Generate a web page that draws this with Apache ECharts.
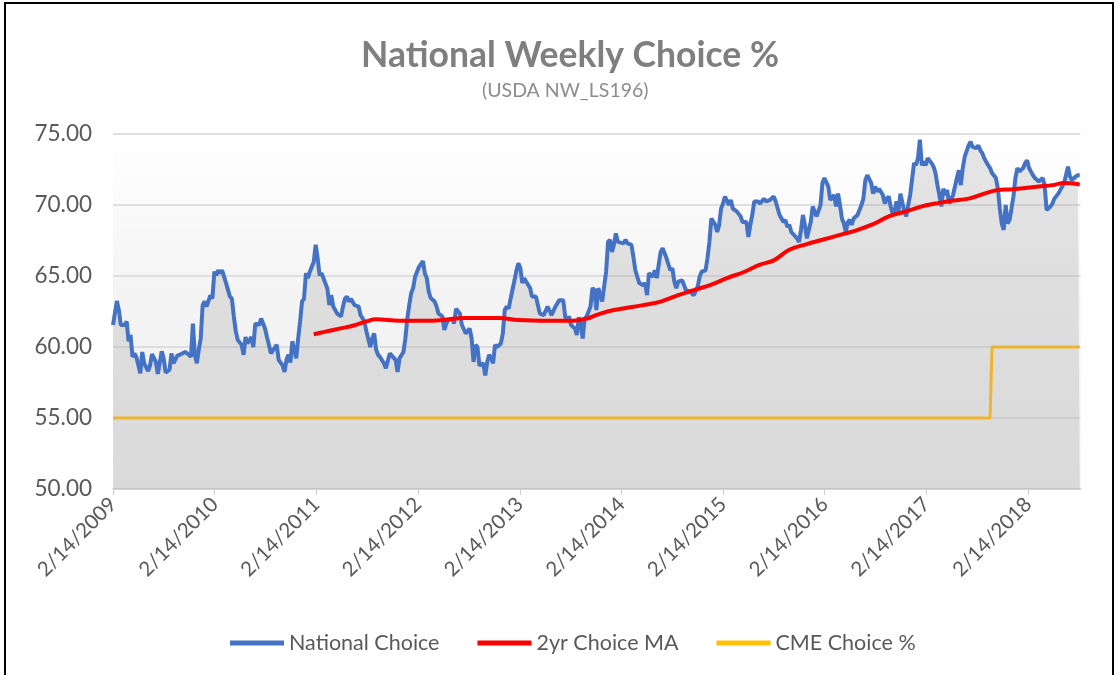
<!DOCTYPE html>
<html>
<head>
<meta charset="utf-8">
<title>National Weekly Choice %</title>
<script src="https://cdn.jsdelivr.net/npm/echarts@6/dist/echarts.min.js"></script>
<style>
  html, body { margin: 0; padding: 0; background: #fff; }
  #chart { width: 1119px; height: 675px; }
</style>
</head>
<body>
<div id="chart"></div>
<script>
// x is counted in weeks from 2/14/2009 (first weekly report on the axis)
const startDate = '2/14/2009'
const axisEndWeek = 496.4

const tickLabels = ['2/14/2009', '2/14/2010', '2/14/2011', '2/14/2012', '2/14/2013',
  '2/14/2014', '2/14/2015', '2/14/2016', '2/14/2017', '2/14/2018']

// National Choice % — [week, value]
const nationalChoice = [
  [0, 61.55], [2, 63.24], [3, 62.6], [4, 61.55], [6, 61.55], [7, 61.8], [8, 60.4], [9, 60.85],
  [10, 59.3], [11, 59.55], [12, 59.3], [14, 58.15], [15, 59.65], [16, 58.85], [18, 58.3], [19, 58.7],
  [20, 59.5], [22, 58.95], [23, 58.1], [25, 59.7], [26, 59.2], [27, 58.2], [29, 58.4], [30, 59.55],
  [31, 58.85], [33, 59.4], [35, 59.5], [37, 59.65], [39, 59.45], [40, 59.3], [41, 61.65], [42, 59.45],
  [43, 58.85], [44, 59.8], [45, 60.6], [46, 62.95], [47, 63.2], [48, 62.85], [50, 63.65], [51, 63.4],
  [52, 65.3], [53, 65.05], [54, 65.4], [55, 65.2], [56, 65.4], [57, 65.4], [58, 64.5], [60, 63.55],
  [61, 63.4], [62, 62.15], [63, 61.1], [64, 60.5], [66, 60.15], [67, 59.45], [68, 60.7], [69, 60.25],
  [71, 60.7], [72, 60.0], [73, 61.65], [74, 61.65], [75, 61.55], [76, 62.0], [78, 61.3], [79, 60.7],
  [80, 60.15], [81, 59.55], [82, 59.6], [84, 60.15], [85, 59.1], [86, 58.9], [87, 58.7], [88, 58.25],
  [89, 59.1], [90, 59.45], [91, 58.9], [92, 60.4], [94, 59.2], [95, 60.6], [96, 61.8], [97, 63.2],
  [98, 63.4], [99, 65.2], [100, 64.85], [101, 65.3], [103, 66.0], [104, 67.2], [105, 66.25], [106, 65.05],
  [107, 65.2], [108, 65.3], [110, 64.1], [111, 62.95], [112, 63.65], [113, 62.85], [114, 62.95], [115, 62.35],
  [117, 62.15], [118, 62.85], [119, 63.4], [120, 63.55], [121, 63.2], [122, 63.4], [124, 62.95], [125, 63.05],
  [126, 62.85], [127, 62.25], [128, 62.15], [129, 61.8], [130, 61.1], [132, 60.0], [133, 60.6], [134, 60.95],
  [135, 59.8], [136, 59.45], [137, 59.3], [139, 58.85], [140, 58.5], [141, 58.5], [142, 59.55], [143, 59.45],
  [145, 59.1], [146, 58.25], [147, 59.2], [149, 59.65], [150, 60.6], [151, 62.0], [152, 62.95], [153, 63.8],
  [154, 64.15], [155, 64.95], [156, 65.3], [157, 65.65], [159, 66.05], [160, 65.2], [161, 64.85], [162, 63.9],
  [163, 63.45], [164, 63.4], [165, 63.2], [166, 62.85], [167, 62.35], [169, 62.15], [170, 61.2], [171, 61.65],
  [172, 61.9], [174, 62.0], [175, 61.65], [176, 62.7], [177, 62.6], [178, 62.35], [179, 61.55], [181, 60.95],
  [182, 60.85], [183, 61.3], [184, 60.6], [185, 58.95], [186, 60.15], [187, 60.0], [188, 58.7], [190, 58.85],
  [191, 58.0], [192, 58.95], [193, 59.45], [194, 59.2], [195, 58.85], [196, 60.15], [197, 60.0], [199, 60.25],
  [200, 60.95], [201, 62.6], [202, 62.85], [203, 62.7], [204, 63.4], [206, 64.7], [207, 65.4], [208, 65.9],
  [209, 65.55], [210, 64.5], [211, 64.85], [212, 64.6], [214, 64.15], [215, 63.55], [216, 63.65], [217, 63.55],
  [219, 62.35], [220, 62.25], [221, 62.25], [223, 62.85], [224, 62.85], [225, 62.25], [226, 62.35], [227, 62.85],
  [229, 63.3], [230, 63.3], [231, 63.3], [232, 62.15], [233, 61.9], [234, 62.15], [235, 61.55], [237, 61.3],
  [238, 60.85], [239, 62.1], [240, 61.55], [241, 60.6], [242, 62.0], [243, 62.15], [245, 62.85], [246, 64.15],
  [247, 64.0], [248, 62.6], [249, 64.15], [251, 63.2], [252, 63.3], [253, 65.3], [254, 67.4], [255, 67.55],
  [256, 66.7], [257, 67.2], [258, 68.0], [259, 67.4], [260, 67.3], [262, 67.3], [263, 67.55], [264, 67.3],
  [266, 67.2], [267, 66.35], [268, 65.4], [269, 64.95], [270, 64.5], [271, 64.6], [272, 64.35], [273, 64.5],
  [274, 63.65], [275, 65.2], [277, 64.95], [278, 65.4], [279, 64.85], [280, 65.8], [281, 66.7], [282, 66.95],
  [283, 66.6], [284, 66.25], [285, 65.8], [286, 65.4], [287, 65.55], [288, 64.6], [289, 64.15], [290, 64.6],
  [292, 64.7], [293, 64.35], [294, 64.0], [295, 63.9], [296, 63.9], [298, 63.65], [299, 63.75], [300, 64.25],
  [301, 64.95], [302, 65.3], [304, 65.4], [305, 66.25], [306, 67.4], [307, 69.05], [308, 69.05], [309, 68.6],
  [310, 68.1], [311, 68.6], [312, 69.75], [313, 70.1], [314, 70.6], [315, 70.7], [316, 70.0], [317, 70.35],
  [318, 69.75], [319, 69.65], [320, 69.55], [322, 69.2], [323, 68.8], [324, 68.7], [325, 68.8], [326, 67.75],
  [327, 68.6], [328, 69.3], [329, 70.25], [331, 70.25], [332, 70.1], [333, 70.0], [334, 70.45], [335, 70.25],
  [337, 70.35], [338, 70.25], [339, 70.6], [340, 70.25], [342, 69.3], [343, 69.05], [344, 68.8], [345, 68.95],
  [346, 68.45], [347, 68.6], [348, 68.1], [349, 68.0], [351, 67.65], [352, 67.4], [353, 68.25], [354, 69.3],
  [355, 68.6], [356, 67.65], [358, 68.8], [359, 69.9], [360, 70.0], [361, 69.2], [362, 69.3], [363, 70.0],
  [364, 71.55], [365, 71.9], [366, 72.0], [367, 71.3], [368, 70.35], [370, 70.7], [371, 69.9], [372, 70.8],
  [373, 70.0], [374, 69.05], [375, 68.7], [376, 68.1], [377, 68.8], [378, 68.95], [379, 68.6], [380, 69.05],
  [382, 69.3], [383, 69.2], [384, 70.0], [385, 70.45], [386, 71.75], [387, 72.1], [388, 72.1], [389, 71.55],
  [390, 70.8], [391, 71.3], [392, 70.95], [393, 71.15], [395, 70.7], [396, 70.1], [397, 70.45], [398, 70.6],
  [399, 69.9], [400, 69.4], [401, 69.55], [402, 70.25], [403, 69.55], [404, 70.8], [405, 70.7], [406, 69.55],
  [407, 69.2], [408, 70.0], [409, 70.7], [411, 72.95], [412, 72.8], [413, 73.3], [414, 74.6], [415, 72.8],
  [416, 73.05], [417, 72.8], [418, 73.3], [420, 72.95], [421, 72.7], [422, 72.25], [423, 71.4], [424, 70.7],
  [425, 69.9], [426, 71.15], [427, 70.7], [428, 71.05], [429, 70.1], [430, 70.2], [431, 70.7], [433, 71.9],
  [434, 72.45], [435, 71.4], [436, 72.6], [437, 73.4], [438, 73.5], [439, 74.2], [440, 74.45], [441, 74.1],
  [442, 74.2], [443, 74.0], [444, 74.2], [445, 73.85], [446, 73.65], [447, 73.3], [448, 73.05], [449, 72.8],
  [450, 72.6], [451, 72.25], [453, 71.9], [454, 71.15], [455, 69.75], [456, 68.7], [457, 68.25], [458, 70.0],
  [459, 68.7], [460, 68.95], [461, 69.75], [462, 70.6], [463, 71.9], [464, 72.6], [465, 72.35], [466, 72.25],
  [467, 72.6], [468, 72.95], [469, 73.15], [470, 72.6], [471, 72.35], [472, 72.1], [473, 71.9], [474, 72.0],
  [475, 71.65], [477, 71.9], [478, 71.4], [479, 69.65], [480, 69.75], [481, 69.9], [482, 70.1], [483, 70.45],
  [485, 70.8], [486, 71.05], [487, 71.05], [488, 71.55], [490, 72.7], [491, 72.0], [492, 71.75], [493, 71.9],
  [494, 71.9], [495, 72.1], [496, 72.1]
]

// 2yr Choice MA — [week, value]
const choiceMA = [
  [103, 60.9], [108, 61.05], [113, 61.2], [118, 61.35], [123, 61.5], [130, 61.8], [135, 61.95], [147, 61.85],
  [164, 61.85], [181, 62.05], [198, 62.05], [208, 61.9], [224, 61.85], [236, 61.85], [243, 62.0], [249, 62.3],
  [257, 62.6], [272, 62.95], [281, 63.2], [290, 63.65], [298, 64.0], [307, 64.4], [315, 64.85], [324, 65.3],
  [332, 65.8], [339, 66.1], [347, 66.85], [356, 67.25], [364, 67.55], [373, 67.9], [381, 68.2], [390, 68.65],
  [398, 69.2], [407, 69.55], [415, 69.9], [422, 70.1], [430, 70.3], [439, 70.45], [447, 70.8], [454, 71.05],
  [461, 71.1], [468, 71.2], [475, 71.3], [482, 71.4], [488, 71.55], [496, 71.45]
]

// CME Choice % — [week, value]
const cmeChoice = [[0, 55], [450, 55], [451, 60], [496, 60]]

const parseDate = s => {
  const [m, d, y] = s.split('/').map(Number)
  return Date.UTC(y, m - 1, d)
}
// week offset of each labelled date on the axis
const tickWeeks = tickLabels.map(s => Math.round((parseDate(s) - parseDate(startDate)) / 86400000) / 7)
const labelFor = v => {
  const i = tickWeeks.findIndex(w => Math.abs(w - v) < 0.01)
  return i >= 0 ? tickLabels[i] : ''
}

const font = 'Lato, "Open Sans", sans-serif'
const chart = echarts.init(document.getElementById('chart'))

chart.setOption({
  animation: false,
  backgroundColor: '#fff',
  title: [
    {
      text: 'National Weekly Choice %',
      left: 356,
      top: 33,
      textStyle: { fontFamily: font, fontSize: 35.5, fontWeight: 'bold', color: '#7f7f7f' }
    },
    {
      text: '(USDA NW_LS196)',
      left: 477,
      top: 76,
      textStyle: { fontFamily: font, fontSize: 19.5, fontWeight: 'normal', color: '#8c8c8c' }
    }
  ],
  graphic: [{
    type: 'rect',
    shape: { x: 5, y: 3, width: 1108, height: 700 },
    style: { fill: 'none', stroke: '#000', lineWidth: 2 },
    silent: true
  }],
  legend: {
    bottom: 16,
    left: 225,
    icon: 'rect',
    itemWidth: 54,
    itemHeight: 5,
    itemGap: 38,
    textStyle: { fontFamily: font, fontSize: 21.5, color: '#595959' },
    data: ['National Choice', '2yr Choice MA', 'CME Choice %']
  },
  grid: {
    left: 113,
    right: 38.5,
    top: 134,
    bottom: 186,
    show: true,
    borderWidth: 0,
    backgroundColor: new echarts.graphic.LinearGradient(0, 0, 0, 1, [
      { offset: 0, color: '#ffffff' },
      { offset: 0.45, color: '#f4f4f4' },
      { offset: 1, color: '#efefef' }
    ])
  },
  xAxis: {
    type: 'value',
    min: 0,
    max: axisEndWeek,
    axisLine: { lineStyle: { color: '#d0d0d0', width: 1.5 } },
    axisTick: { show: true, customValues: tickWeeks, length: 6, lineStyle: { color: '#d0d0d0' } },
    axisLabel: {
      customValues: tickWeeks,
      rotate: 45,
      fontFamily: font,
      fontSize: 20.5,
      color: '#595959',
      margin: 12,
      formatter: v => labelFor(v)
    },
    splitLine: { show: false }
  },
  yAxis: {
    type: 'value',
    min: 50,
    max: 75,
    interval: 5,
    axisLine: { show: false },
    axisTick: { show: false },
    axisLabel: {
      fontFamily: font,
      fontSize: 22.5,
      color: '#595959',
      margin: 21,
      formatter: v => v.toFixed(2)
    },
    splitLine: { lineStyle: { color: '#d6d6d6', width: 1.5 } }
  },
  series: [
    {
      name: 'National Choice',
      type: 'line',
      data: nationalChoice,
      showSymbol: false,
      lineStyle: { color: '#4472C4', width: 4 },
      itemStyle: { color: '#4472C4' },
      areaStyle: { origin: 'start', color: 'rgba(160,160,160,0.38)' },
      z: 3
    },
    {
      name: '2yr Choice MA',
      type: 'line',
      data: choiceMA,
      smooth: 0.4,
      showSymbol: false,
      lineStyle: { color: '#FF0000', width: 4 },
      itemStyle: { color: '#FF0000' },
      z: 4
    },
    {
      name: 'CME Choice %',
      type: 'line',
      data: cmeChoice,
      showSymbol: false,
      lineStyle: { color: '#EDB52C', width: 3 },
      itemStyle: { color: '#FFC000' },
      z: 4
    }
  ]
})

window.addEventListener('resize', () => chart.resize())
</script>
</body>
</html>
